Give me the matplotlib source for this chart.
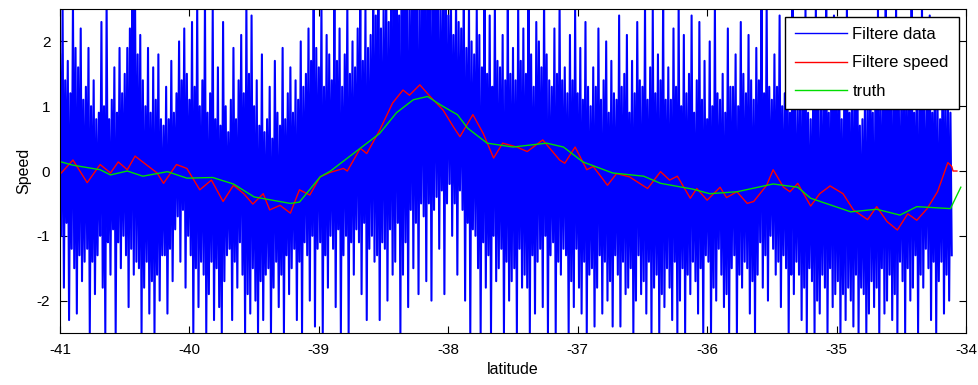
import numpy as np
import matplotlib
matplotlib.use('Agg')
import matplotlib.pyplot as plt

plt.rcParams['font.family'] = ['Liberation Sans', 'DejaVu Sans']
plt.rcParams['axes.unicode_minus'] = False

# raw speed data, max / min per 0.02 deg bin (tenths), -41.00 .. -34.12
data_hi = [
    18, 25, 14, 17, 12,  26, 19, 16, 22, 11,  13, 19, 10, 14, 8,   9, 23, 10, 26, 8,
    11, 16, 9, 19, 12,   15, 19, 22, 27, 26,  18, 21, 14, 10, 19,  9, 16, 11, 18, 8,
    7, 13, 8, 17, 9,     12, 20, 14, 22, 15,  11, 23, 13, 26, 10,  14, 27, 9, 12, 25,
    8, 16, 7, 23, 10,    6, 11, 19, 8, 14,    21, 12, 26, 15, 24,  10, 14, 7, 18, 6,
    8, 13, 5, 17, 9,     7, 19, 8, 12, 16,    9, 14, 11, 20, 13,   15, 22, 17, 27, 19,
    16, 26, 13, 21, 18,  14, 27, 17, 22, 13,  18, 26, 15, 20, 16,  22, 28, 17, 25, 19,
    21, 27, 24, 30, 22,  25, 31, 23, 28, 27,  29, 24, 32, 27, 30,  26, 33, 28, 31, 25,
    30, 27, 34, 29, 32,  28, 31, 25, 30, 27,  24, 29, 21, 27, 23,  22, 27, 19, 26, 20,
    18, 25, 21, 16, 27,  15, 24, 13, 26, 17,  16, 21, 14, 27, 15,  19, 14, 26, 17, 22,
    15, 27, 18, 13, 23,  20, 16, 27, 18, 14,  13, 22, 15, 26, 14,  16, 12, 21, 14, 25,
    12, 19, 11, 23, 13,  10, 16, 13, 22, 11,  14, 20, 9, 17, 12,   11, 24, 13, 15, 21,
    9, 17, 12, 23, 14,   13, 26, 11, 16, 25,  12, 18, 14, 27, 11,  16, 11, 22, 13, 26,
    10, 21, 12, 15, 24,  9, 14, 23, 11, 17,   8, 20, 10, 26, 12,   11, 15, 9, 22, 13,
    13, 18, 10, 23, 15,  12, 21, 14, 11, 19,  14, 27, 12, 26, 13,  11, 18, 13, 24, 10,
    12, 22, 9, 27, 11,   10, 16, 12, 25, 9,   8, 14, 26, 10, 13,   12, 27, 9, 15, 24,
    11, 20, 8, 14, 26,   9, 16, 12, 23, 7,    8, 13, 10, 21, 9,    12, 25, 10, 15, 27,
    13, 18, 11, 26, 14,  10, 22, 12, 16, 27,  9, 15, 11, 26, 10,   12, 24, 9, 17, 11,
    8, 20, 10, 14, 9,
]
data_lo = [
    -10, -18, -8, -23, -12,  -15, -22, -13, -17, -14,  -12, -25, -14, -19, -13,  -10, -18, -25, -11, -16,
    -9, -25, -11, -15, -10,  -13, -21, -12, -16, -14,  -15, -25, -18, -14, -22,  -17, -25, -16, -20, -13,
    -13, -22, -12, -17, -9,  -7, -14, -6, -18, -10,    -13, -25, -15, -21, -14,  -16, -25, -19, -14, -23,
    -15, -21, -25, -17, -13, -12, -23, -14, -18, -11,  -16, -25, -19, -22, -15,  -20, -25, -17, -23, -16,
    -15, -25, -18, -14, -21, -16, -25, -13, -19, -15,  -12, -23, -14, -25, -11,  -13, -20, -10, -24, -12,
    -11, -25, -13, -18, -10, -12, -21, -9, -25, -13,   -10, -25, -11, -16, -9,   -11, -19, -8, -23, -12,
    -10, -14, -13, -23, -11, -12, -20, -9, -16, -14,   -8, -25, -16, -11, -21,   -6, -15, -8, -19, -5,
    -7, -17, -5, -20, -6,    -4, -12, -3, -19, -5,     -2, -10, -5, -16, -3,     -6, -20, -8, -25, -9,
    -10, -15, -25, -11, -18, -13, -25, -10, -17, -15,  -12, -25, -14, -20, -17,  -15, -25, -12, -18, -16,
    -18, -25, -13, -22, -14, -12, -21, -10, -25, -13,  -11, -25, -14, -16, -12,  -13, -25, -17, -21, -12,
    -18, -22, -14, -25, -16, -15, -24, -18, -13, -22,  -14, -20, -17, -24, -13,  -16, -24, -14, -19, -18,
    -15, -25, -20, -13, -19, -17, -22, -14, -25, -18,  -16, -25, -19, -21, -15,  -18, -23, -14, -25, -20,
    -15, -25, -16, -19, -14, -17, -22, -15, -25, -13,  -14, -25, -18, -20, -12,  -16, -21, -19, -25, -15,
    -13, -25, -16, -18, -14, -15, -22, -17, -25, -16,  -11, -18, -13, -20, -10,  -12, -16, -14, -21, -13,
    -15, -25, -16, -19, -14, -16, -23, -18, -25, -15,  -17, -25, -20, -22, -16,  -18, -25, -15, -21, -19,
    -17, -25, -19, -23, -18, -20, -24, -16, -25, -18,  -19, -25, -22, -17, -21,  -18, -25, -15, -22, -20,
    -16, -23, -19, -25, -14, -17, -25, -15, -20, -18,  -13, -25, -16, -18, -12,  -15, -23, -14, -25, -17,
    -14, -22, -16, -20, -13,
]
# samples alternate between the bin maximum and minimum
data_speed = np.column_stack([data_hi, data_lo]).ravel() / 10.0
data_lat = np.linspace(-41.0, -34.11, len(data_speed))

# filtered speed
filt_lat = [-40.99, -40.90, -40.79, -40.69, -40.61, -40.55, -40.48, -40.42, -40.25, -40.20,
            -40.10, -40.02, -39.92, -39.83, -39.74, -39.66, -39.58, -39.51, -39.43, -39.38,
            -39.30, -39.22, -39.15, -39.07, -38.99, -38.91, -38.81, -38.78, -38.68, -38.63,
            -38.53, -38.43, -38.35, -38.30, -38.22, -38.14, -38.04, -37.96, -37.91, -37.81,
            -37.73, -37.65, -37.58, -37.47, -37.39, -37.27, -37.14, -37.10, -37.02, -36.93,
            -36.88, -36.77, -36.70, -36.60, -36.46, -36.36, -36.29, -36.23, -36.13, -36.08,
            -36.00, -35.90, -35.85, -35.77, -35.69, -35.64, -35.54, -35.49, -35.41, -35.36,
            -35.30, -35.20, -35.13, -35.05, -34.95, -34.87, -34.76, -34.69, -34.61, -34.53,
            -34.45, -34.38, -34.30, -34.22, -34.14, -34.11, -34.10, -34.07]
filt_speed = [-0.03, 0.17, -0.18, 0.10, -0.03, 0.14, 0.02, 0.23, -0.03, -0.19,
              0.10, 0.04, -0.29, -0.14, -0.47, -0.22, -0.35, -0.51, -0.35, -0.60,
              -0.53, -0.65, -0.29, -0.37, -0.09, -0.02, 0.04, 0.00, 0.35, 0.27,
              0.63, 1.05, 1.25, 1.17, 1.33, 1.15, 0.94, 0.68, 0.53, 0.87,
              0.58, 0.20, 0.43, 0.37, 0.30, 0.48, 0.17, 0.12, 0.37, 0.02,
              0.07, -0.22, -0.04, -0.09, -0.27, -0.01, -0.14, -0.08, -0.42, -0.27,
              -0.45, -0.25, -0.41, -0.32, -0.50, -0.47, -0.22, 0.02, -0.25, -0.32,
              -0.19, -0.54, -0.35, -0.23, -0.35, -0.60, -0.75, -0.55, -0.78, -0.91,
              -0.66, -0.76, -0.58, -0.32, 0.13, 0.07, 0.00, 0.00]

# true speed
truth_lat = [-40.99, -40.90, -40.69, -40.61, -40.48, -40.36, -40.17, -40.02, -39.82, -39.66,
             -39.50, -39.22, -39.15, -38.99, -38.91, -38.53, -38.40, -38.27, -38.16, -38.06,
             -37.93, -37.85, -37.70, -37.50, -37.24, -37.11, -36.96, -36.73, -36.49, -36.36,
             -36.11, -35.98, -35.77, -35.49, -35.30, -35.20, -34.89, -34.69, -34.51, -34.38,
             -34.12, -34.04]
truth_speed = [0.14, 0.09, 0.02, -0.06, 0.00, -0.08, -0.01, -0.11, -0.10, -0.20,
               -0.40, -0.50, -0.48, -0.09, 0.00, 0.58, 0.90, 1.10, 1.15, 1.02,
               0.87, 0.66, 0.43, 0.37, 0.43, 0.37, 0.14, -0.03, -0.08, -0.19,
               -0.28, -0.35, -0.32, -0.20, -0.25, -0.42, -0.63, -0.59, -0.68, -0.55,
               -0.58, -0.25]

fig = plt.figure(figsize=(9.79, 3.85), dpi=100)
ax = fig.add_axes([0.0613, 0.135, 0.9254, 0.8416])

ax.plot(data_lat, data_speed, color='#0000ff', lw=1.5, label='Filtere data')
ax.plot(filt_lat, filt_speed, color='#ff0000', lw=1.0, label='Filtere speed')
ax.plot(truth_lat, truth_speed, color='#00dd00', lw=1.0, label='truth')

ax.set_xlim(-41, -34)
ax.set_ylim(-2.5, 2.5)
ax.set_xticks(np.arange(-41, -33))
ax.set_yticks([-2, -1, 0, 1, 2])
ax.tick_params(direction='in', top=True, right=True, labelsize=11, length=5, pad=7)
ax.set_xlabel('latitude', fontsize=11.5)
ax.set_ylabel('Speed', fontsize=11.5)

leg = ax.legend(loc='upper right', bbox_to_anchor=(0.992, 0.975), borderaxespad=0,
                fontsize=12, fancybox=False, framealpha=1, edgecolor='black',
                handlelength=3.1, labelspacing=0.8, borderpad=0.6, handletextpad=0.35)
for line in leg.get_lines():
    line.set_linewidth(1.0)
leg.get_frame().set_linewidth(1.0)

fig.savefig('out.png', dpi=100)
